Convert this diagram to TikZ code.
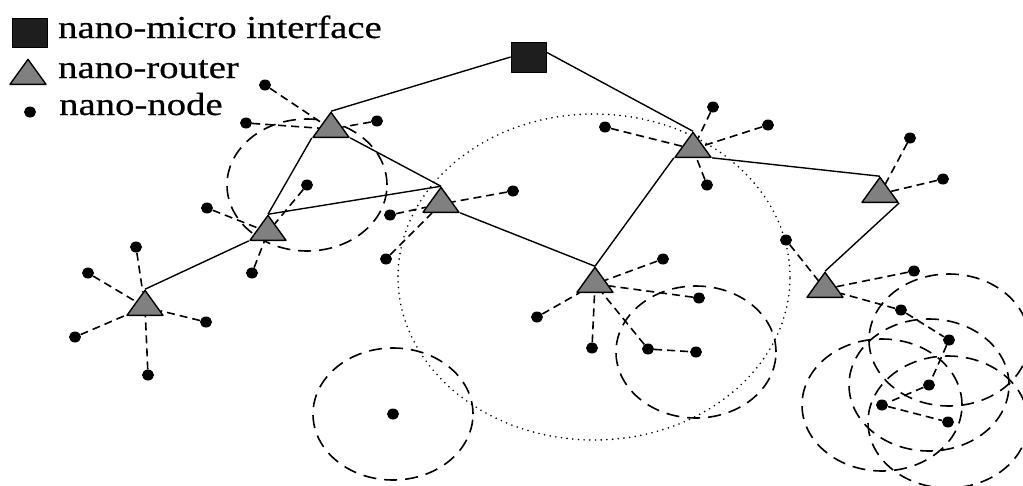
\documentclass[tikz,border=0pt]{standalone}
\usepackage{fontspec}
\newfontfamily\legendfont[FakeStretch=1.21,FakeBold=0.6]{Liberation Serif}
\usetikzlibrary{shapes.geometric,backgrounds}
\definecolor{routergray}{RGB}{128,128,128}
\definecolor{ifaceblack}{RGB}{30,30,30}
\begin{document}
\begin{tikzpicture}[x=1pt,y=-1pt,line join=round]
  \tikzset{
      iface/.style={rectangle,draw=black,fill=ifaceblack,line width=0.8pt,minimum width=35pt,minimum height=30pt,inner sep=0pt},
      router/.style={regular polygon,regular polygon sides=3,draw=black,fill=routergray,line width=1.4pt,minimum size=41.6pt,inner sep=0pt,yscale=0.8},
      nnode/.style={ellipse,fill=black,minimum width=12pt,minimum height=11pt,inner sep=0pt},
      backbone/.style={line width=1.4pt},
      nlink/.style={line width=1.6pt,dash pattern=on 8pt off 5pt},
      ringrange/.style={line width=1.6pt,dash pattern=on 13pt off 8pt},
      zonerange/.style={line width=1.8pt,line cap=round,dash pattern=on 0pt off 5.7pt},
      keytext/.style={anchor=base west,inner sep=0pt,font=\legendfont\fontsize{32}{38}\selectfont}
  }
  \useasboundingbox (0,0) rectangle (1023,485);
  % legend
  \node[iface,minimum height=29pt] (keyiface) at (29.5,32.5) {};
  \node[router] (keyrouter) at (28,76) {};
  \node[nnode] (keynode) at (30,112) {};
  \node[keytext] (keyifacetext) at (58,38) {nano-micro interface};
  \node[keytext] (keyroutertext) at (58,78) {nano-router};
  \node[keytext] (keynodetext) at (59,115) {nano-node};
  % routers and interface
  \node[iface] (gw) at (528.5,57) {};
  \node[router] (r1) at (331,129) {};
  \node[router] (r2) at (268,232) {};
  \node[router] (r3) at (145,307) {};
  \node[router] (r4) at (441,204) {};
  \node[router] (r5) at (595,284) {};
  \node[router] (r6) at (693,149) {};
  \node[router] (r7) at (880,194) {};
  \node[router] (r8) at (825,289) {};
  \draw[backbone] (gw.west) -- (r1.corner 1);
  \draw[backbone] (gw.15) -- (r6.corner 1);
  \draw[backbone] (r1.corner 2) -- (r2.corner 1);
  \draw[backbone] (r1.corner 3) -- (r4.corner 1);
  \draw[backbone] (r2.corner 1) -- (r4.corner 1);
  \draw[backbone] (r2.corner 2) -- (r3.corner 1);
  \draw[backbone] (r4.corner 3) -- (r5.corner 1);
  \draw[backbone] (r5.corner 1) -- (r6.corner 2);
  \draw[backbone] (r6.corner 3) -- (r7.corner 1);
  \draw[backbone] (r7.corner 3) -- (r8.corner 1);
  % nano-nodes
  \foreach \id/\pos/\hub in {
      a1/{265,85}/r1, a2/{246,123}/r1, a3/{377,121}/r1,
      b1/{307,185}/r2, b2/{207,208}/r2, b3/{252,273}/r2,
      c1/{136,247}/r3, c2/{88,273}/r3, c3/{206,322}/r3, c4/{75,337}/r3, c5/{148,375}/r3,
      d1/{513,191}/r4, d2/{390,215}/r4, d3/{386,259}/r4,
      e1/{663,259}/r5, e2/{699,298}/r5, e3/{537,317}/r5, e4/{592,348}/r5, e5/{648,349}/r5,
      f1/{605,127}/r6, f2/{713,107}/r6, f3/{768,125}/r6, f4/{707,185}/r6,
      g1/{910,138}/r7, g2/{943,179}/r7,
      h1/{786,240}/r8, h2/{914,271}/r8, h3/{901,310}/r8}
    {\node[nnode] (\id) at (\pos) {};
     \draw[nlink] (\id) -- (\hub);}
  \node[nnode] (e6) at (696,352) {};
  \node[nnode] (h4) at (949,340) {};
  \node[nnode] (h5) at (929,385) {};
  \node[nnode] (h6) at (882,405) {};
  \node[nnode] (h7) at (948,422) {};
  \node[nnode] (x1) at (393,414) {};
  \draw[nlink] (e5) -- (e6);
  \draw[nlink] (h3) -- (h4) -- (h5) -- (h6) -- (h7);
  % ranges
  \begin{scope}[on background layer]
    \draw[zonerange] (594,277) ellipse [x radius=196pt,y radius=163pt];
    \foreach \ctr in {b1,x1,e6,h4,h5,h6,h7}
      \draw[ringrange] (\ctr.center) ellipse [x radius=80pt,y radius=66pt];
  \end{scope}
\end{tikzpicture}
\end{document}
